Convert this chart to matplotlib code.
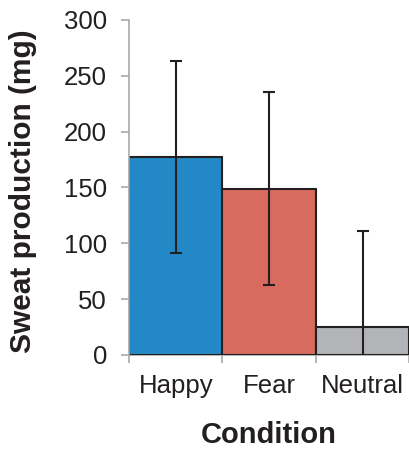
import matplotlib
matplotlib.use("Agg")
import matplotlib.pyplot as plt

conditions = ["Happy", "Fear", "Neutral"]
sweat_mg = [177, 149, 25]
sweat_err = [86, 86, 86]
bar_colors = ["#2389C6", "#D76B5E", "#B3B4B8"]
y_ticks = [0, 50, 100, 150, 200, 250, 300]

plt.rcParams["font.family"] = ["Liberation Sans", "DejaVu Sans"]

fig = plt.figure(figsize=(4.10, 4.51), dpi=100)
ax = fig.add_axes([0.315, 0.213, 0.683, 0.743])

x = list(range(len(conditions)))
ax.bar(x, sweat_mg, width=1.0, color=bar_colors, edgecolor="#231F20",
       linewidth=1.5, zorder=2)
ax.errorbar(x, sweat_mg, yerr=sweat_err, fmt="none", ecolor="#231F20",
            elinewidth=1.5, capsize=4.5, capthick=1.5, zorder=3)

ax.set_xlim(-0.5, 2.5)
ax.set_ylim(0, 300)
ax.set_yticks(y_ticks)
ax.set_xticks([-0.5, 0.5, 1.5, 2.5])
ax.set_xticklabels([])
ax.set_xticks(x, minor=True)
ax.set_xticklabels(conditions, minor=True)
ax.tick_params(axis="x", which="minor", length=0, pad=14, labelsize=18.5,
               colors="#231F20")
ax.tick_params(axis="x", which="major", length=6, width=1.2, color="#A7A9AC")
ax.tick_params(axis="y", length=6, width=1.2, color="#A7A9AC", pad=10,
               labelsize=18.5, labelcolor="#231F20")

for side in ("top", "right"):
    ax.spines[side].set_visible(False)
for side in ("left", "bottom"):
    ax.spines[side].set_color("#A7A9AC")
    ax.spines[side].set_linewidth(1.2)
ax.spines["bottom"].set_zorder(1)

ax.set_ylabel("Sweat production (mg)", fontsize=21.5, fontweight="bold",
              color="#231F20")
ax.yaxis.set_label_coords(-0.329, 0.49)
ax.set_xlabel("Condition", fontsize=21, fontweight="bold", color="#231F20",
              labelpad=16)

fig.savefig("out.png", dpi=100)
